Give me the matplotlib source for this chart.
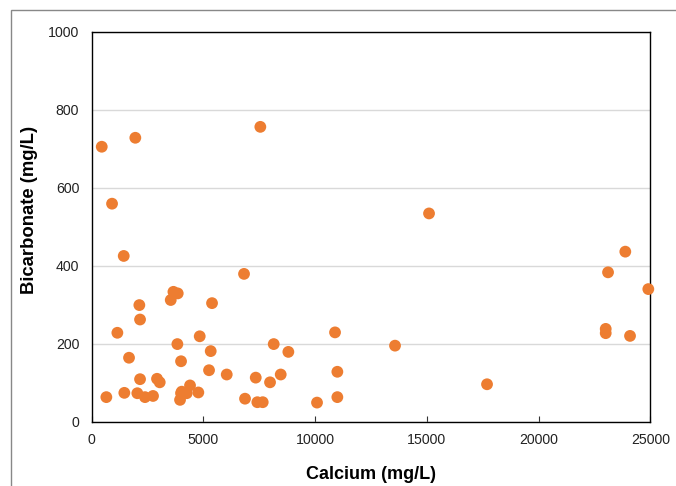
import matplotlib.pyplot as plt
from matplotlib.patches import Rectangle

# calcium vs bicarbonate, mg/L
calcium = [448, 1951, 7546, 909, 1432, 6816, 15096, 23881, 23108, 24911,
           23004, 23004, 24092, 13574, 17692, 10889, 8145, 8800, 6042, 7340,
           7980, 8458, 10993, 6861, 7412, 7653, 10083, 10993, 3656, 3849,
           3536, 2131, 5384, 2162, 1147, 4833, 3833, 5325, 1669, 3997,
           5250, 2162, 2922, 3043, 654, 1459, 2041, 2385, 2743, 4028,
           4399, 3952, 4771, 4251, 3997]
bicarbonate = [705, 728, 756, 559, 425, 379, 534, 436, 383, 340,
               238, 227, 220, 195, 96, 229, 199, 179, 121, 113,
               101, 121, 128, 59, 50, 50, 49, 63, 333, 329,
               312, 299, 304, 262, 228, 219, 199, 181, 164, 155,
               132, 109, 110, 101, 63, 74, 73, 63, 66, 77,
               93, 56, 75, 73, 73]

plt.rcParams['font.family'] = ['Liberation Sans', 'DejaVu Sans']

fig = plt.figure(figsize=(6.76, 4.86), dpi=100)
ax = fig.add_axes([0.1357, 0.1323, 0.8263, 0.8025])

ax.scatter(calcium, bicarbonate, s=72, color='#ED7D31', edgecolors='none',
           zorder=3, clip_on=False)

ax.set_xlim(0, 25000)
ax.set_ylim(0, 1000)
ax.set_xticks(range(0, 25001, 5000))
ax.set_yticks(range(0, 1001, 200))
ax.yaxis.grid(True, color='#d9d9d9', linewidth=1.0)
ax.set_axisbelow(True)
ax.tick_params(axis='x', direction='in', length=4, width=0.8, labelsize=10.2,
               pad=8, colors='#222222')
ax.tick_params(axis='y', length=0, labelsize=10.2, pad=9, colors='#222222')
ax.tick_params(axis='x', color='#333333')
for sp in ax.spines.values():
    sp.set_linewidth(1.0)
    sp.set_color('black')

ax.set_xlabel('Calcium (mg/L)', fontsize=13, fontweight='bold', labelpad=14)
ax.set_ylabel('Bicarbonate (mg/L)', fontsize=13.3, fontweight='bold')
ax.yaxis.set_label_coords(-0.097, 0.543)

# outer chart frame, partly off the canvas
fig.patches.append(Rectangle((11 / 676, -0.05), 1.0, 1.05 - 10 / 486,
                             transform=fig.transFigure, fill=False,
                             edgecolor='#888888', linewidth=1.0))

fig.savefig('out.png', dpi=100)
